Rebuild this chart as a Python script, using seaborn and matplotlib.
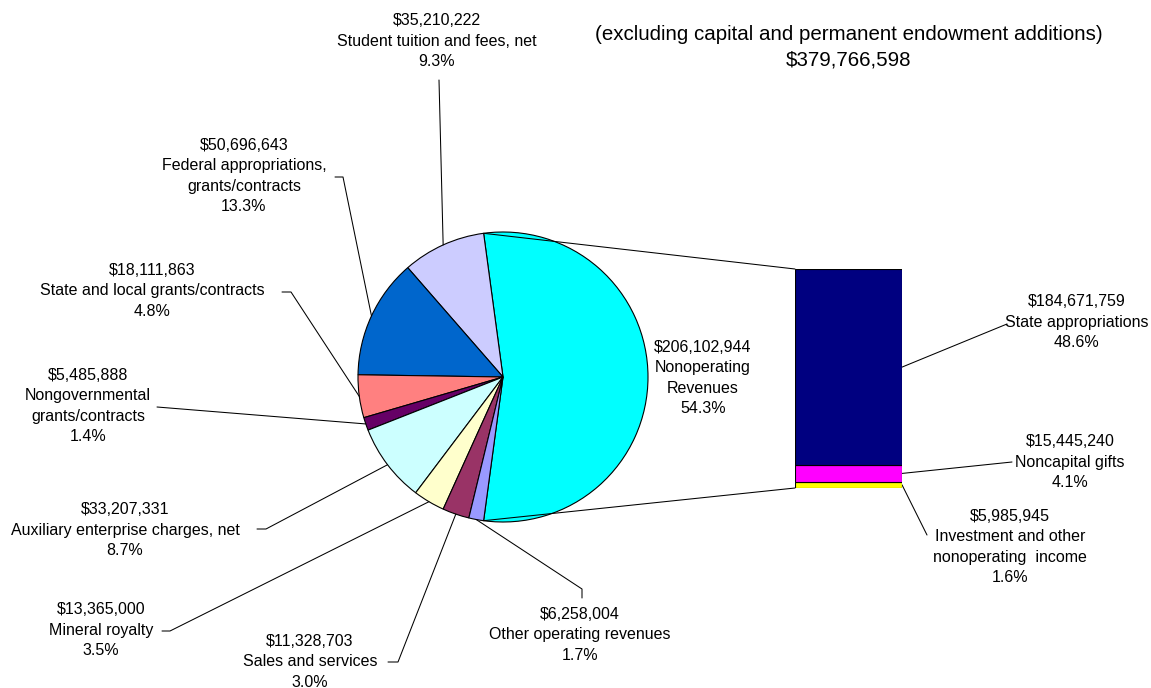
import numpy as np
import seaborn as sns
import matplotlib
matplotlib.use("Agg")
import matplotlib.pyplot as plt

# pie slices (counterclockwise, starting with the exploded slice)
pie_names = ["Nonoperating\nRevenues", "Student tuition and fees, net",
             "Federal appropriations,\ngrants/contracts",
             "State and local grants/contracts", "Nongovernmental\ngrants/contracts",
             "Auxiliary enterprise charges, net", "Mineral royalty",
             "Sales and services", "Other operating revenues"]
pie_values = [206102944, 35210222, 50696643, 18111863, 5485888,
              33207331, 13365000, 11328703, 6258004]
pie_pcts = ["54.3%", "9.3%", "13.3%", "4.8%", "1.4%", "8.7%", "3.5%", "3.0%", "1.7%"]
pie_colors = ["#00FFFF", "#CCCCFF", "#0066CC", "#FF8080", "#660066",
              "#CCFFFF", "#FFFFCC", "#993366", "#9999FF"]

# bar of pie (bottom to top)
bar_names = ["Investment and other\nnonoperating  income", "Noncapital gifts",
             "State appropriations"]
bar_values = [5985945, 15445240, 184671759]
bar_pcts = ["1.6%", "4.1%", "48.6%"]
bar_colors = ["#FFFF00", "#FF00FF", "#000080"]

subtitle = "(excluding capital and permanent endowment additions)"

W, H = 1151, 688
total = sum(pie_values)

sns.set_theme(style="white")
plt.rcParams["font.family"] = ["Liberation Sans", "DejaVu Sans"]

fig = plt.figure(figsize=(W / 100, H / 100), dpi=100)
ax = fig.add_axes([0, 0, 1, 1])

# pie
cx, cy, r = 503, H - 377, 145
start = -180 * pie_values[0] / total
ax.pie(pie_values, colors=pie_colors, startangle=start, counterclock=True,
       radius=r, center=(cx, cy), frame=True,
       wedgeprops=dict(edgecolor="black", linewidth=0.8))
ax.set_xlim(0, W)
ax.set_ylim(0, H)
ax.axis("off")

# bar axes
bx0, bx1, by0, by1 = 795, 902, H - 488, H - 269
bax = fig.add_axes([bx0 / W, by0 / H, (bx1 - bx0) / W, (by1 - by0) / H])
bottoms = np.concatenate([[0], np.cumsum(bar_values)[:-1]])
bax.bar(0, bar_values, bottom=bottoms, width=1, color=bar_colors,
        edgecolor="black", linewidth=0.8)
bax.set_xlim(-0.5, 0.5)
bax.set_ylim(0, sum(bar_values))
bax.axis("off")

# connectors pie -> bar
a_top = np.deg2rad(start + 360 * pie_values[0] / total)
a_bot = np.deg2rad(start)
lk = dict(color="black", linewidth=0.75)
ax.plot([cx + r * np.cos(a_top), bx0], [cy + r * np.sin(a_top), by1], **lk)
ax.plot([cx + r * np.cos(a_bot), bx0], [cy + r * np.sin(a_bot), by0], **lk)

fs = 11.5
def label(x, y, value, name, pct):
    ax.text(x, H - y, f"${value:,.0f}\n{name}\n{pct}",
            ha="center", va="center", multialignment="center",
            fontsize=fs, linespacing=1.45, color="black")

# pie labels: text center, leader start points
pie_lab = [(703, 378, None),
           (437, 41, [(439, 80)]),
           (244, 176, [(335, 177), (343, 177)]),
           (152, 291, [(282, 292), (291, 292)]),
           (88, 406, [(157, 407)]),
           (125, 530, [(257, 529), (266, 529)]),
           (101, 630, [(162, 631), (170, 631)]),
           (310, 662, [(388, 662), (398, 662)]),
           (580, 635, [(582, 598), (582, 589)])]

cum = np.cumsum([0] + pie_values)
for i, (tx, ty, pts) in enumerate(pie_lab):
    label(tx, ty, pie_values[i], pie_names[i], pie_pcts[i])
    if pts is None:
        continue
    mid = np.deg2rad(start + 360 * (cum[i] + pie_values[i] / 2) / total)
    xs = [p[0] for p in pts] + [cx + r * np.cos(mid)]
    ys = [H - p[1] for p in pts] + [cy + r * np.sin(mid)]
    ax.plot(xs, ys, **lk)

# bar labels
bar_lab = [(1010, 547, (927, 535)),
           (1070, 462, (1012, 462)),
           (1077, 322, (1007, 324))]
bcum = np.cumsum([0] + bar_values)
for i, (tx, ty, p) in enumerate(bar_lab):
    label(tx, ty, bar_values[i], bar_names[i], bar_pcts[i])
    ym = by0 + (by1 - by0) * (bcum[i] + bar_values[i] / 2) / sum(bar_values)
    ax.plot([p[0], bx1], [H - p[1], ym], **lk)

# title
ax.text(849, H - 35, subtitle, ha="center", va="center", fontsize=14.8, color="black")
ax.text(849, H - 60, f"${total:,.0f}", ha="center", va="center", fontsize=14.8,
        color="black")

fig.savefig("out.png", dpi=100)
